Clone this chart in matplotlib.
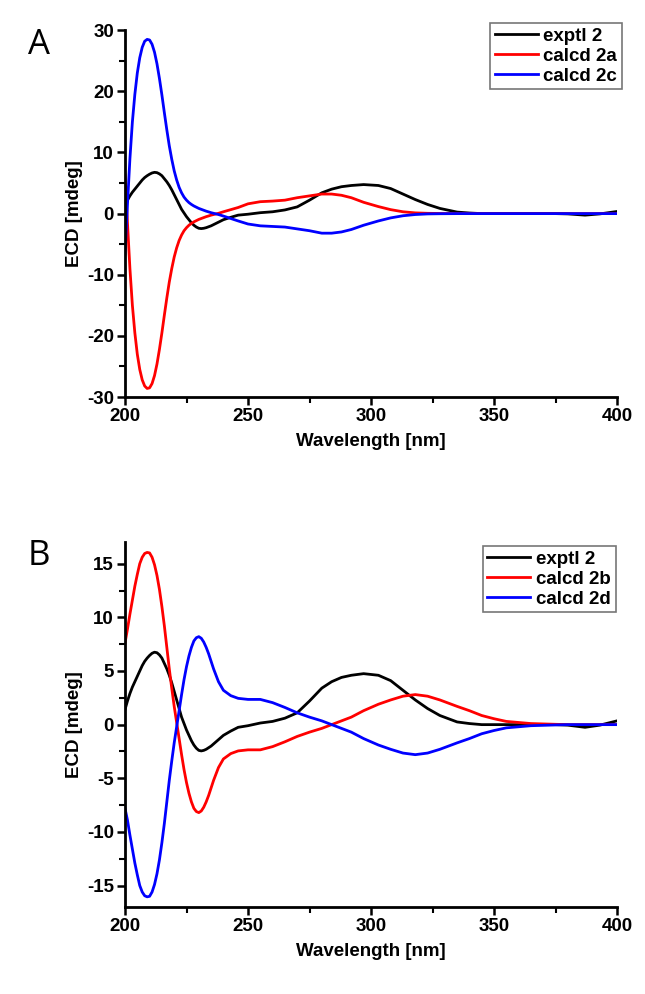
import matplotlib.pyplot as plt
from matplotlib.ticker import MultipleLocator

plt.rcParams['font.family'] = ['Liberation Sans', 'DejaVu Sans']
plt.rcParams['axes.unicode_minus'] = False

# wavelength grid (nm) shared by all curves
wl = [200, 201, 202, 203, 204, 205, 206, 207, 208, 209, 210, 211, 212, 213, 214,
      215, 216, 217, 218, 219, 220, 221, 222, 223, 224, 225, 226, 227, 228, 229,
      230, 231, 232, 233, 234, 235, 236, 238, 240, 243, 246, 250, 255, 260, 265,
      270, 275, 280, 284, 288, 292, 297, 303, 308, 313, 318, 323, 328, 335, 340,
      345, 350, 355, 365, 375, 380, 387, 393, 400]

exptl_2 = [1.4, 2.2, 2.9, 3.5, 4.0, 4.5, 5.0, 5.5, 5.9, 6.2, 6.45, 6.65, 6.75, 6.7, 6.5,
           6.2, 5.7, 5.2, 4.6, 3.9, 3.1, 2.3, 1.5, 0.7, 0.1, -0.5, -1.0, -1.5, -1.9, -2.2,
           -2.4, -2.45, -2.4, -2.3, -2.15, -2.0, -1.8, -1.4, -1.0, -0.6, -0.25, -0.1, 0.15, 0.3, 0.6,
           1.1, 2.2, 3.4, 4.0, 4.4, 4.6, 4.75, 4.6, 4.1, 3.2, 2.3, 1.5, 0.85, 0.25, 0.1,
           0.0, 0.0, 0.0, 0.0, 0.0, -0.05, -0.25, -0.05, 0.35]

calcd_2a = [6.3, -1.5, -9.0, -15.0, -19.5, -23.0, -25.5, -27.2, -28.2, -28.6, -28.5, -27.8, -26.5, -24.6, -22.2,
            -19.5, -16.6, -13.8, -11.2, -9.0, -7.1, -5.6, -4.4, -3.5, -2.8, -2.3, -1.9, -1.6, -1.35, -1.15,
            -0.95, -0.8, -0.65, -0.5, -0.38, -0.25, -0.15, 0.05, 0.3, 0.65, 1.0, 1.6, 1.95, 2.05, 2.2,
            2.6, 2.9, 3.2, 3.2, 3.0, 2.6, 1.85, 1.15, 0.65, 0.3, 0.12, 0.05, 0.02, 0.0, 0.0,
            0.0, 0.0, 0.0, 0.0, 0.0, 0.0, 0.0, 0.0, 0.0]

calcd_2c = [-6.6, 1.5, 9.0, 15.0, 19.5, 23.0, 25.5, 27.2, 28.2, 28.5, 28.4, 27.7, 26.4, 24.5, 22.1,
            19.4, 16.5, 13.7, 11.1, 8.9, 7.0, 5.5, 4.3, 3.4, 2.7, 2.2, 1.8, 1.5, 1.25, 1.05,
            0.85, 0.7, 0.55, 0.4, 0.28, 0.15, 0.05, -0.15, -0.4, -0.8, -1.2, -1.7, -2.0, -2.1, -2.2,
            -2.5, -2.8, -3.2, -3.2, -3.0, -2.6, -1.9, -1.2, -0.7, -0.35, -0.15, -0.05, -0.02, 0.0, 0.0,
            0.0, 0.0, 0.0, 0.0, 0.0, 0.0, 0.0, 0.0, 0.0]

calcd_2b = [7.6, 8.9, 10.3, 11.6, 12.9, 14.0, 15.0, 15.6, 15.95, 16.05, 16.0, 15.6, 14.9, 13.9, 12.6,
            11.0, 9.2, 7.2, 5.2, 3.4, 1.7, 0.2, -1.3, -2.8, -4.2, -5.4, -6.4, -7.2, -7.8, -8.1,
            -8.2, -8.05, -7.7, -7.2, -6.6, -5.9, -5.2, -4.0, -3.2, -2.7, -2.45, -2.35, -2.35, -2.05, -1.6,
            -1.1, -0.7, -0.35, 0.0, 0.35, 0.7, 1.3, 1.9, 2.3, 2.65, 2.8, 2.65, 2.3, 1.7, 1.3,
            0.85, 0.55, 0.3, 0.1, 0.03, 0.0, 0.0, 0.0, 0.0]

calcd_2d = [-7.8, -8.9, -10.3, -11.6, -12.9, -14.0, -15.0, -15.6, -15.95, -16.05, -16.0, -15.6, -14.9, -13.9, -12.6,
            -11.0, -9.2, -7.2, -5.2, -3.4, -1.7, -0.2, 1.3, 2.8, 4.2, 5.4, 6.4, 7.2, 7.8, 8.1,
            8.2, 8.05, 7.7, 7.2, 6.6, 5.9, 5.2, 4.0, 3.2, 2.7, 2.45, 2.35, 2.35, 2.05, 1.6,
            1.1, 0.7, 0.35, 0.0, -0.35, -0.7, -1.3, -1.9, -2.3, -2.65, -2.8, -2.65, -2.3, -1.7, -1.3,
            -0.85, -0.55, -0.3, -0.1, -0.03, 0.0, 0.0, 0.0, 0.0]

FS = 13.5

fig = plt.figure(figsize=(6.45, 9.94), dpi=100)
ax_a = fig.add_axes([0.1938, 0.6006, 0.7628, 0.369])
ax_b = fig.add_axes([0.1938, 0.0875, 0.7628, 0.367])


def style_axes(ax, ylim, major, minor, leg_anchor):
    ax.set_xlim(200, 400)
    ax.set_ylim(*ylim)
    ax.spines['top'].set_visible(False)
    ax.spines['right'].set_visible(False)
    for side in ('left', 'bottom'):
        ax.spines[side].set_linewidth(2)
    ax.xaxis.set_major_locator(MultipleLocator(50))
    ax.xaxis.set_minor_locator(MultipleLocator(25))
    ax.yaxis.set_major_locator(MultipleLocator(major))
    ax.yaxis.set_minor_locator(MultipleLocator(minor))
    ax.tick_params(which='major', direction='out', length=6, width=1.8, labelsize=FS, pad=2)
    ax.tick_params(which='minor', direction='out', length=4, width=1.5)
    for lab in ax.get_xticklabels() + ax.get_yticklabels():
        lab.set_fontweight('bold')
    ax.set_xlabel('Wavelength [nm]', fontsize=FS, fontweight='bold', labelpad=6)
    ax.set_ylabel('ECD [mdeg]', fontsize=FS, fontweight='bold', labelpad=3)
    leg = ax.legend(loc='upper right', bbox_to_anchor=leg_anchor, prop={'weight': 'bold', 'size': FS},
                    handlelength=2.3, handletextpad=0.3, borderpad=0.25, labelspacing=0.15,
                    borderaxespad=0, fancybox=False, framealpha=1)
    leg.get_frame().set_edgecolor('#777777')
    leg.get_frame().set_linewidth(1.2)


ax_a.plot(wl, exptl_2, color='black', lw=2, label='exptl 2')
ax_a.plot(wl, calcd_2a, color='#ff0000', lw=2, label='calcd 2a')
ax_a.plot(wl, calcd_2c, color='#0000ff', lw=2, label='calcd 2c')
style_axes(ax_a, (-30, 30), 10, 5, (1.01, 1.02))

ax_b.plot(wl, exptl_2, color='black', lw=2, label='exptl 2')
ax_b.plot(wl, calcd_2b, color='#ff0000', lw=2, label='calcd 2b')
ax_b.plot(wl, calcd_2d, color='#0000ff', lw=2, label='calcd 2d')
style_axes(ax_b, (-17, 17), 5, 2.5, (0.997, 0.99))

fig.text(0.061, 0.955, 'A', fontsize=25, ha='center', va='center', family='Open Sans')
fig.text(0.061, 0.441, 'B', fontsize=25, ha='center', va='center', family='Open Sans')

fig.savefig('out.png', dpi=100)
